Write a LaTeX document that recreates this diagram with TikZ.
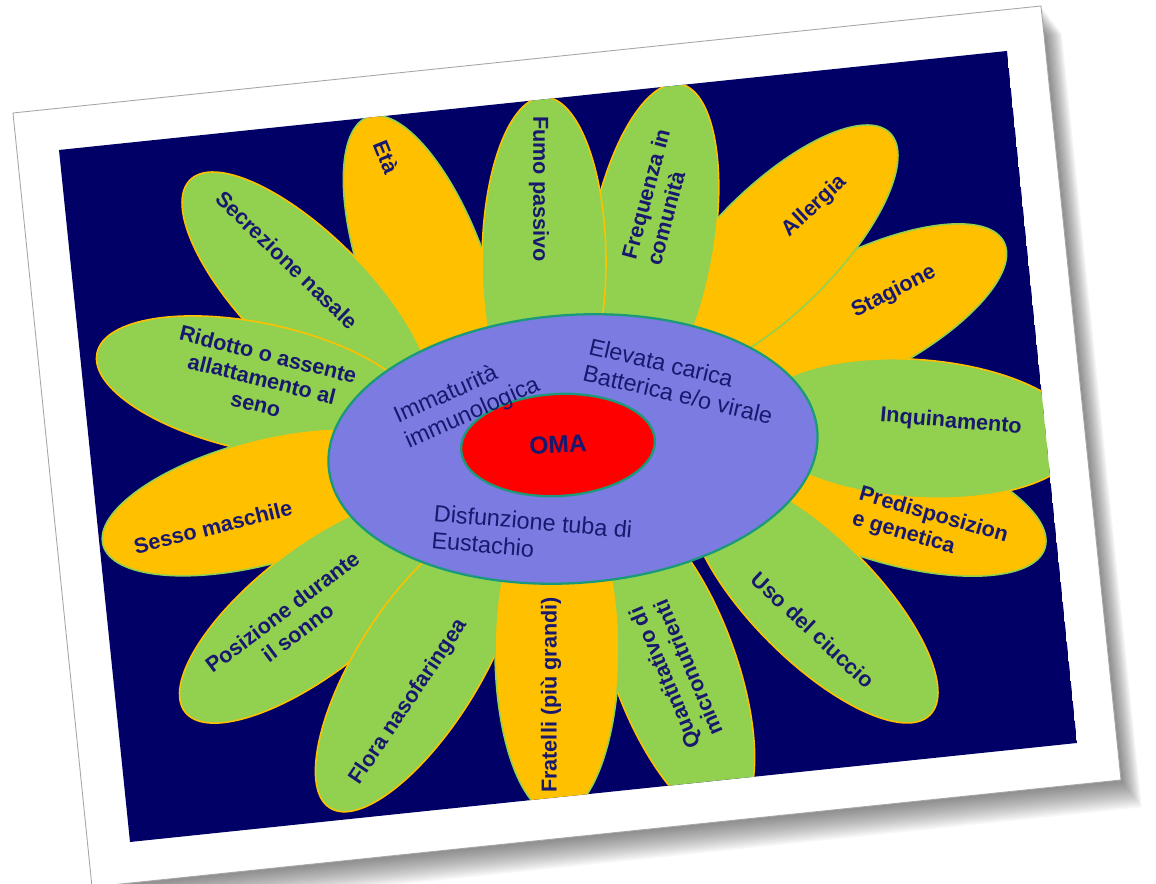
\documentclass[tikz,border=0pt]{standalone}
\usepackage{fontspec}
\setmainfont{Liberation Sans}
\usepackage{xcolor}
\usepackage{tikz}
\usetikzlibrary{shapes.geometric,calc}

\definecolor{navybg}{HTML}{000066}
\definecolor{petalgreen}{HTML}{92D050}
\definecolor{petalyellow}{HTML}{FFC000}
\definecolor{coreblue}{HTML}{7B7BE1}
\definecolor{corered}{HTML}{FF0000}
\definecolor{ringteal}{HTML}{1A9A7A}
\definecolor{labelnavy}{HTML}{18186E}

\begin{document}
\begin{tikzpicture}[
    x=0.02cm, y=0.02cm,
    petal/.style={ellipse, inner sep=0pt, minimum width=6.6cm, minimum height=2.48cm, line width=0.9pt},
    greenpetal/.style={petal, fill=petalgreen, draw=petalyellow},
    yellowpetal/.style={petal, fill=petalyellow, draw=petalgreen},
    plabel/.style={font=\fontsize{12.3}{14.5}\selectfont\bfseries, text=labelnavy, align=center, inner sep=0pt},
    clabel/.style={font=\fontsize{13.3}{15.5}\selectfont, text=labelnavy, align=left, inner sep=0pt},
]
\useasboundingbox (0,0) rectangle (1156,884);

% Photo frame with shadow
\foreach \k in {1,...,16}
  \fill[black, opacity=0.035, shift={(1.3*\k,-1.7*\k)}] (13,771) -- (1041,878) -- (1121,104) -- (92,-3) -- cycle;
\fill[white] (13,771) -- (1041,878) -- (1121,104) -- (92,-3) -- cycle;
\draw[gray!70, line width=0.5pt] (13,771) -- (1041,878) -- (1121,104) -- (92,-3) -- cycle;

\begin{scope}
\clip (59,734) -- (1007,833) -- (1077,141) -- (130,42) -- cycle;
\fill[navybg] (59,734) -- (1007,833) -- (1077,141) -- (130,42) -- cycle;

% Petals, back to front
\node[yellowpetal, rotate=110] (eta) at ($(368,767)+(110:-165)$) {};
\node[greenpetal, rotate=135] (secrezione) at ($(190,704)+(135:-165)$) {};
\node[greenpetal, rotate=168, minimum height=2.56cm] (allattamento) at ($(97,531)+(168:-165)$) {};
\node[yellowpetal, rotate=195] (sesso) at ($(103,339)+(195:-165)$) {};
\node[greenpetal, rotate=218] (posizione) at ($(185,172)+(218:-165)$) {};
\node[greenpetal, rotate=238] (flora) at ($(330,76)+(238:-165)$) {};
\node[yellowpetal, rotate=27] (stagione) at ($(1004,642)+(27:-165)$) {};
\node[yellowpetal, rotate=45] (allergia) at ($(890,751)+(45:-165)$) {};
\node[greenpetal, rotate=80] (frequenza) at ($(680,800)+(80:-165)$) {};
\node[greenpetal, rotate=90] (fumo) at ($(544,787)+(90:-165)$) {};
\node[yellowpetal, rotate=-17] (predisposizione) at ($(1045,336)+(-17:-165)$) {};
\node[greenpetal, rotate=-4, minimum height=2.76cm] (inquinamento) at ($(1080,444)+(-4:-165)$) {};
\node[greenpetal, rotate=-45] (ciuccio) at ($(930,169)+(-45:-165)$) {};
\node[greenpetal, rotate=-70] (micronutrienti) at ($(730,64)+(-70:-165)$) {};
\node[yellowpetal, rotate=-90] (fratelli) at ($(557,69)+(-90:-165)$) {};

% Core
\node[ellipse, fill=coreblue, draw=ringteal, line width=1.3pt, minimum width=9.8cm, minimum height=5.36cm, rotate=4] (core) at (573,435) {};
\node[ellipse, fill=corered, draw=ringteal, line width=1.3pt, minimum width=3.88cm, minimum height=2.04cm, rotate=3, font=\fontsize{14}{16}\selectfont\bfseries, text=labelnavy] (oma) at (558,439) {OMA};
\end{scope}

% Petal labels
\node[plabel, rotate=-44] (lsecrezione) at (287,624) {Secrezione nasale};
\node[plabel, rotate=-68] (leta) at (386,727) {Età};
\node[plabel, rotate=-90] (lfumo) at (539,695) {Fumo passivo};
\node[plabel, rotate=75, align=left] (lfrequenza) at (658,687) {Frequenza in\\comunità};
\node[plabel, rotate=43] (lallergia) at (815,678) {Allergia};
\node[plabel, rotate=27] (lstagione) at (894,592) {Stagione};
\node[plabel, rotate=-5] (linquinamento) at (951,462) {Inquinamento};
\node[plabel, rotate=-16, align=left] (lpredisposizione) at (930,356) {Predisposizion\\e genetica};
\node[plabel, rotate=-43] (lciuccio) at (813,254) {Uso del ciuccio};
\node[plabel, rotate=113] (lmicronutrienti) at (676,211) {Quantitativo di\\micronutrienti};
\node[plabel, rotate=90] (lfratelli) at (551,189) {Fratelli (più grandi)};
\node[plabel, rotate=56] (lflora) at (409,182) {Flora nasofaringea};
\node[plabel, rotate=37] (lposizione) at (290,262) {Posizione durante\\il sonno};
\node[plabel, rotate=14] (lsesso) at (213,357) {Sesso maschile};
\node[plabel, rotate=-14] (lallattamento) at (262,505) {Ridotto o assente\\allattamento al\\seno};

% Core labels
\node[clabel, rotate=24] (limmaturita) at (467,483) {Immaturità\\immunologica};
\node[clabel, rotate=-13] (lcarica) at (681,503) {Elevata carica\\Batterica e/o virale};
\node[clabel, rotate=-5] (ltuba) at (532,349) {Disfunzione tuba di\\Eustachio};

\end{tikzpicture}
\end{document}
